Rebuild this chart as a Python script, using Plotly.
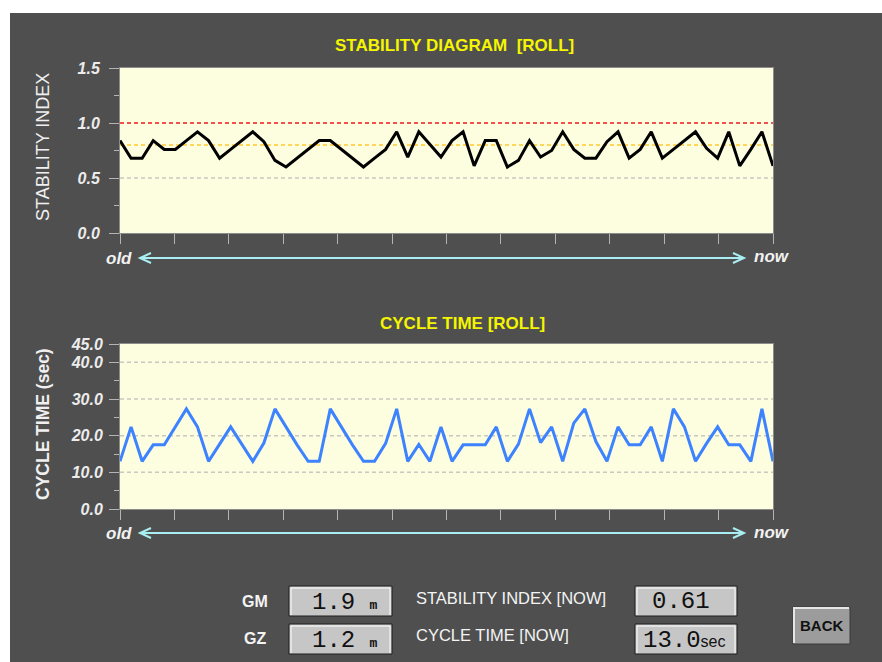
import plotly.graph_objects as go

# ---- data -------------------------------------------------------------
stability_index = [
    0.84, 0.68, 0.68, 0.84, 0.76, 0.76, 0.84, 0.92, 0.84, 0.68,
    0.76, 0.84, 0.92, 0.83, 0.66, 0.60, 0.68, 0.76, 0.84, 0.84,
    0.76, 0.68, 0.60, 0.68, 0.76, 0.92, 0.69, 0.92, 0.80, 0.69,
    0.84, 0.92, 0.61, 0.84, 0.84, 0.60, 0.66, 0.84, 0.69, 0.75,
    0.92, 0.76, 0.68, 0.68, 0.83, 0.92, 0.68, 0.76, 0.92, 0.68,
    0.76, 0.84, 0.92, 0.77, 0.68, 0.92, 0.61, 0.76, 0.92, 0.61,
]
cycle_time = [
    13.0, 22.4, 13.0, 17.5, 17.5, 22.4, 27.3, 22.4, 13.0, 17.7,
    22.4, 17.7, 13.0, 18.0, 27.3, 22.4, 17.5, 13.0, 13.0, 27.3,
    22.4, 17.5, 13.0, 13.0, 17.9, 27.3, 13.0, 17.6, 13.0, 22.4,
    13.0, 17.5, 17.5, 17.5, 22.4, 13.0, 17.7, 27.3, 18.1, 22.4,
    13.0, 23.4, 27.3, 18.4, 13.0, 22.4, 17.5, 17.5, 22.4, 13.0,
    27.3, 22.4, 13.0, 17.9, 22.4, 17.5, 17.5, 13.0, 27.3, 13.0,
]
samples = list(range(len(stability_index)))

si_ticks = [0.0, 0.5, 1.0, 1.5]
si_ticktext = ["0.0", "0.5", "1.0", "1.5"]
si_minor = [0.25, 0.75, 1.25]
ct_ticks = [0.0, 10.0, 20.0, 30.0, 40.0, 45.0]
ct_ticktext = ["0.0", "10.0", "20.0", "30.0", "40.0", "45.0"]
ct_minor = [5.0, 15.0, 25.0, 35.0]

si_limit = 1.0      # red reference line
si_warning = 0.8    # amber reference line
si_grid = [0.5]
ct_grid = [10.0, 20.0, 30.0, 40.0]

gm_value, gz_value = "1.9", "1.2"
si_now, ct_now = "0.61", "13.0"

# ---- page geometry helpers ------------------------------------------
W, H = 882, 662


def px(x):
    return x / W


def py(y):
    return 1 - y / H


PANEL = "#4f4f4f"
PLOT_BG = "#fdfde0"
TICK_C = "#b4b4b4"
LABEL_C = "#ececec"
FONT = "Liberation Sans, Arial, sans-serif"
x_tickvals = [(len(samples) - 1) * k / 12 for k in range(13)]

fig = go.Figure()
fig.add_trace(go.Scatter(x=samples, y=stability_index, mode="lines",
                         line=dict(color="#000000", width=3),
                         xaxis="x", yaxis="y", hoverinfo="skip"))
fig.add_trace(go.Scatter(x=samples, y=cycle_time, mode="lines",
                         line=dict(color="#3d82ff", width=3),
                         xaxis="x2", yaxis="y2", hoverinfo="skip"))

tickfont = dict(family=FONT, size=16, color=LABEL_C, weight="bold", style="italic")
xcommon = dict(range=[0, len(samples) - 1], tickvals=x_tickvals, ticks="outside",
               ticklen=10, tickcolor=TICK_C, tickwidth=1, showticklabels=False,
               showgrid=False, zeroline=False, showline=True, linecolor="#8c8c8c",
               linewidth=1, mirror=True, fixedrange=True, automargin=False)
ycommon = dict(ticks="outside", ticklen=10, tickcolor=TICK_C, tickwidth=1,
               tickfont=tickfont, showgrid=False, zeroline=False, showline=True,
               linecolor="#8c8c8c", linewidth=1, mirror=True, fixedrange=True,
               automargin=False)

fig.update_layout(
    width=W, height=H, margin=dict(l=0, r=0, t=0, b=0, pad=0, autoexpand=False),
    paper_bgcolor=PANEL, plot_bgcolor=PLOT_BG, showlegend=False,
    xaxis=dict(domain=[px(120), px(773)], anchor="y", **xcommon),
    yaxis=dict(domain=[py(233), py(68)], anchor="x", range=[0, 1.5],
               tickvals=si_ticks, ticktext=si_ticktext, ticklabelstandoff=6,
               minor=dict(tickvals=si_minor, ticks="outside", ticklen=5,
                          tickcolor=TICK_C, showgrid=False),
               **ycommon),
    xaxis2=dict(domain=[px(120), px(773)], anchor="y2", **xcommon),
    yaxis2=dict(domain=[py(509), py(344)], anchor="x2", range=[0, 45],
                tickvals=ct_ticks, ticktext=ct_ticktext, ticklabelstandoff=3,
                minor=dict(tickvals=ct_minor, ticks="outside", ticklen=5,
                           tickcolor=TICK_C, showgrid=False),
                **ycommon),
)

shapes = []
annotations = []

# white page margin around the dark panel
shapes.append(dict(type="rect", xref="paper", yref="paper", x0=0, x1=1,
                   y0=py(13), y1=1, fillcolor="white", line_width=0, layer="above"))
shapes.append(dict(type="rect", xref="paper", yref="paper", x0=0, x1=px(10),
                   y0=0, y1=1, fillcolor="white", line_width=0, layer="above"))

# reference / grid lines
dash = "4px,3px"
shapes.append(dict(type="line", xref="x domain", yref="y", x0=0, x1=1,
                   y0=si_limit, y1=si_limit, line=dict(color="#f01818", width=1.3, dash=dash),
                   layer="below"))
shapes.append(dict(type="line", xref="x domain", yref="y", x0=0, x1=1,
                   y0=si_warning, y1=si_warning, line=dict(color="#ffc82e", width=1.5, dash=dash),
                   layer="below"))
for g in si_grid:
    shapes.append(dict(type="line", xref="x domain", yref="y", x0=0, x1=1, y0=g, y1=g,
                       line=dict(color="#c8c8c0", width=1.5, dash=dash), layer="below"))
for g in ct_grid:
    shapes.append(dict(type="line", xref="x2 domain", yref="y2", x0=0, x1=1, y0=g, y1=g,
                       line=dict(color="#c8c8c0", width=1.5, dash=dash), layer="below"))

# time-direction arrows below each chart
ARROW_C = "#a8eef2"
for ay in (258, 533):
    shapes.append(dict(type="line", xref="paper", yref="paper", x0=px(140), x1=px(744),
                       y0=py(ay), y1=py(ay), line=dict(color=ARROW_C, width=2), layer="above"))
    for tip, back in ((140, 151), (744, 733)):
        path = (f"M {px(back)},{py(ay - 5)} L {px(tip)},{py(ay)} L {px(back)},{py(ay + 5)}")
        shapes.append(dict(type="path", xref="paper", yref="paper", path=path,
                           line=dict(color=ARROW_C, width=2), layer="above"))
    annotations.append(dict(x=px(119), y=py(ay), xref="paper", yref="paper",
                            text="old", showarrow=False, xanchor="center", yanchor="middle",
                            font=dict(family=FONT, size=17, color="#f2f2f2",
                                      weight="bold", style="italic")))
    annotations.append(dict(x=px(772), y=py(ay - 1), xref="paper", yref="paper",
                            text="now", showarrow=False, xanchor="center", yanchor="middle",
                            font=dict(family=FONT, size=17, color="#f2f2f2",
                                      weight="bold", style="italic")))

# chart titles
TITLE_C = "#f5f500"
annotations.append(dict(x=px(454), y=py(45), xref="paper", yref="paper",
                        text="STABILITY DIAGRAM\u00a0 [ROLL]", showarrow=False,
                        xanchor="center", yanchor="middle",
                        font=dict(family=FONT, size=17, color=TITLE_C, weight="bold")))
annotations.append(dict(x=px(462), y=py(323), xref="paper", yref="paper",
                        text="CYCLE TIME [ROLL]", showarrow=False,
                        xanchor="center", yanchor="middle",
                        font=dict(family=FONT, size=17, color=TITLE_C, weight="bold")))

# vertical axis titles
annotations.append(dict(x=px(43), y=py(147), xref="paper", yref="paper",
                        text="STABILITY INDEX", showarrow=False, textangle=-90,
                        xanchor="center", yanchor="middle",
                        font=dict(family=FONT, size=18, color="#f0f0f0")))
annotations.append(dict(x=px(43), y=py(424), xref="paper", yref="paper",
                        text="CYCLE TIME (sec)", showarrow=False, textangle=-90,
                        xanchor="center", yanchor="middle",
                        font=dict(family=FONT, size=17.5, color="#f0f0f0", weight="bold")))


# readout boxes
def value_box(x0, y0, x1, y1):
    shapes.append(dict(type="rect", xref="paper", yref="paper",
                       x0=px(x0), x1=px(x1), y0=py(y1), y1=py(y0),
                       fillcolor="#c6c6c6", line=dict(color="#1e1e1e", width=1),
                       layer="above"))
    inner = (f"M {px(x0 + 2)},{py(y1 - 1)} L {px(x0 + 2)},{py(y0 + 2)} "
             f"L {px(x1 - 2)},{py(y0 + 2)} L {px(x1 - 2)},{py(y1 - 1)}")
    shapes.append(dict(type="path", xref="paper", yref="paper", path=inner,
                       line=dict(color="#ffffff", width=1), layer="above"))


value_box(289, 586, 392, 616)
value_box(289, 624, 392, 654)
value_box(635, 586, 737, 616)
value_box(635, 624, 737, 654)

VAL_FONT = "Liberation Mono, DejaVu Sans Mono, monospace"
unit = "<span style='font-size:13px;font-weight:bold'>{}</span>"
annotations.append(dict(x=px(380), y=py(602), xref="paper", yref="paper",
                        text=f"{gm_value} " + unit.format("m"), showarrow=False,
                        xanchor="right", yanchor="middle",
                        font=dict(family=VAL_FONT, size=24, color="#111111")))
annotations.append(dict(x=px(380), y=py(640), xref="paper", yref="paper",
                        text=f"{gz_value} " + unit.format("m"), showarrow=False,
                        xanchor="right", yanchor="middle",
                        font=dict(family=VAL_FONT, size=24, color="#111111")))
annotations.append(dict(x=px(681), y=py(601), xref="paper", yref="paper",
                        text=si_now, showarrow=False, xanchor="center", yanchor="middle",
                        font=dict(family=VAL_FONT, size=24, color="#111111")))
annotations.append(dict(x=px(684), y=py(640), xref="paper", yref="paper",
                        text=ct_now + "<span style='font-size:16px;font-family:Liberation Sans'>sec</span>",
                        showarrow=False, xanchor="center", yanchor="middle",
                        font=dict(family=VAL_FONT, size=24, color="#111111")))

# readout labels
for txt, x, y in (("GM", 255, 601), ("GZ", 255, 638)):
    annotations.append(dict(x=px(x), y=py(y), xref="paper", yref="paper", text=txt,
                            showarrow=False, xanchor="center", yanchor="middle",
                            font=dict(family=FONT, size=16, color="#f4f4f4", weight="bold")))
annotations.append(dict(x=px(414), y=py(598), xref="paper", yref="paper",
                        text="STABILITY INDEX [NOW]", showarrow=False,
                        xanchor="left", yanchor="middle",
                        font=dict(family=FONT, size=16.5, color="#f4f4f4")))
annotations.append(dict(x=px(414), y=py(635), xref="paper", yref="paper",
                        text="CYCLE TIME [NOW]", showarrow=False,
                        xanchor="left", yanchor="middle",
                        font=dict(family=FONT, size=16.5, color="#f4f4f4")))

# BACK button
bx0, by0, bx1, by1 = 793, 607, 850, 644
shapes.append(dict(type="rect", xref="paper", yref="paper", x0=px(bx0), x1=px(bx1),
                   y0=py(by1), y1=py(by0), fillcolor="#9c9c9c",
                   line=dict(color="#3a3a3a", width=1), layer="above"))
shapes.append(dict(type="path", xref="paper", yref="paper",
                   path=f"M {px(bx0 + 1)},{py(by1 - 1)} L {px(bx0 + 1)},{py(by0 + 1)} L {px(bx1 - 1)},{py(by0 + 1)}",
                   line=dict(color="#e6e6e6", width=2), layer="above"))
annotations.append(dict(x=px(821.5), y=py(625), xref="paper", yref="paper", text="BACK",
                        showarrow=False, xanchor="center", yanchor="middle",
                        font=dict(family=FONT, size=15, color="#111111", weight="bold")))

fig.update_layout(shapes=shapes, annotations=annotations)
fig.write_html("out.html")
